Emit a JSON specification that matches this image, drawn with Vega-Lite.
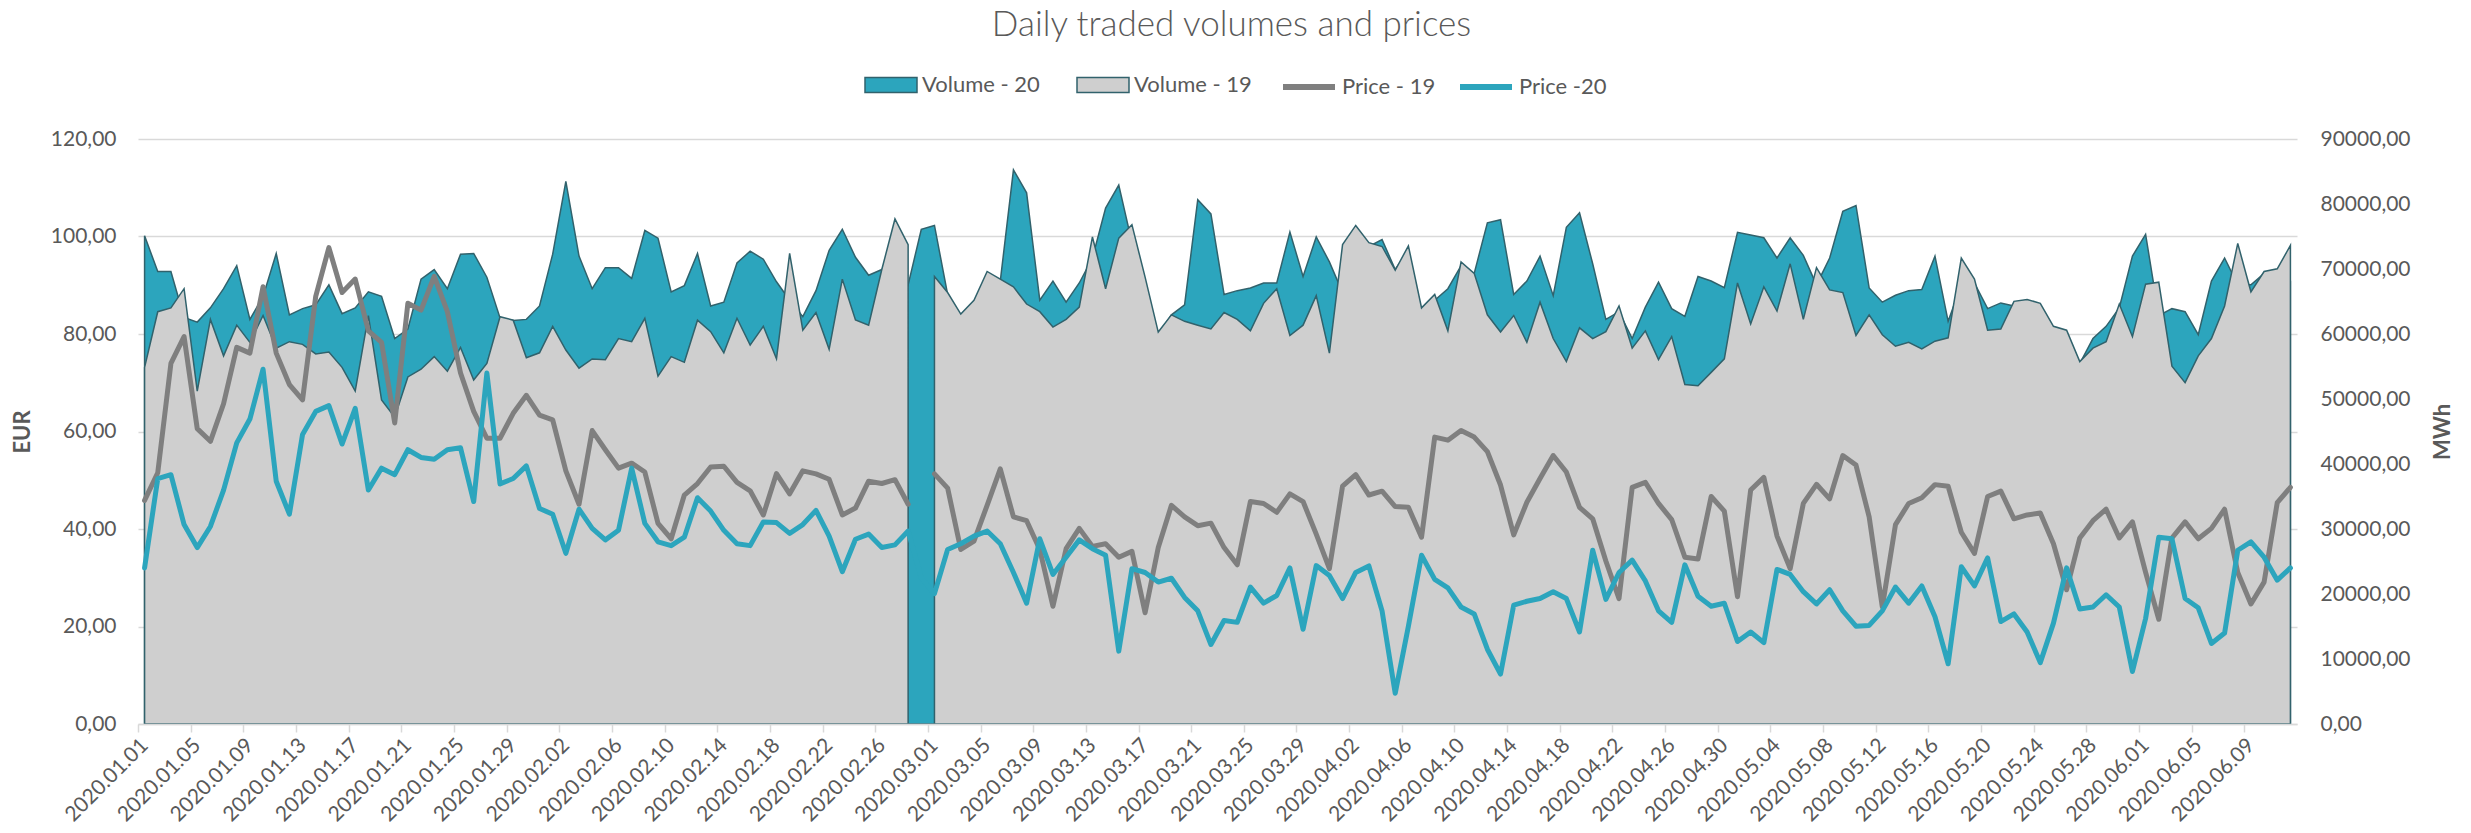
{
  "$schema": "https://vega.github.io/schema/vega-lite/v6.json",
  "width": 2159,
  "height": 585,
  "autosize": {"type": "none"},
  "padding": {"left": 138, "top": 139, "right": 174, "bottom": 109},
  "background": "white",
  "title": {"text": "Daily traded volumes and prices", "anchor": "middle", "frame": "group", "font": "Lato", "fontSize": 35, "fontWeight": 300, "color": "#595959", "offset": 15, "dx": 14},
  "config": {
    "view": {"stroke": null},
    "font": "Lato",
    "axis": {"labelFont": "Lato", "titleFont": "Lato", "labelColor": "#595959", "titleColor": "#595959"},
    "legend": {"labelFont": "Lato", "labelColor": "#595959", "labelFontSize": 22}
  },
  "data": {"values": [
    {"d":"2020.01.01","v20":75100,"v19":54870,"p19":45.87,"p20":32.02},
    {"d":"2020.01.02","v20":69620,"v19":63430,"p19":51.53,"p20":50.35},
    {"d":"2020.01.03","v20":69620,"v19":64020,"p19":73.96,"p20":51.14},
    {"d":"2020.01.04","v20":62540,"v19":66970,"p19":79.47,"p20":40.91},
    {"d":"2020.01.05","v20":61830,"v19":51210,"p19":60.58,"p20":36.19},
    {"d":"2020.01.06","v20":64020,"v19":62250,"p19":57.99,"p20":40.52},
    {"d":"2020.01.07","v20":66970,"v19":56640,"p19":65.70,"p20":47.99},
    {"d":"2020.01.08","v20":70510,"v19":61360,"p19":77.26,"p20":57.67},
    {"d":"2020.01.09","v20":62250,"v19":58710,"p19":76.08,"p20":62.55},
    {"d":"2020.01.10","v20":65790,"v19":62840,"p19":89.69,"p20":72.78},
    {"d":"2020.01.11","v20":72390,"v19":57820,"p19":76.08,"p20":49.80},
    {"d":"2020.01.12","v20":62950,"v19":58820,"p19":69.63,"p20":43.04},
    {"d":"2020.01.13","v20":63900,"v19":58410,"p19":66.48,"p20":59.40},
    {"d":"2020.01.14","v20":64490,"v19":56940,"p19":87.73,"p20":64.12},
    {"d":"2020.01.15","v20":67560,"v19":57230,"p19":97.72,"p20":65.30},
    {"d":"2020.01.16","v20":63130,"v19":54870,"p19":88.51,"p20":57.43},
    {"d":"2020.01.17","v20":64020,"v19":51210,"p19":91.27,"p20":64.75},
    {"d":"2020.01.18","v20":66490,"v19":62840,"p19":80.65,"p20":47.99},
    {"d":"2020.01.19","v20":65790,"v19":49860,"p19":78.28,"p20":52.48},
    {"d":"2020.01.20","v20":59300,"v19":47200,"p19":61.76,"p20":51.14},
    {"d":"2020.01.21","v20":60770,"v19":53400,"p19":86.31,"p20":56.26},
    {"d":"2020.01.22","v20":68440,"v19":54580,"p19":84.89,"p20":54.68},
    {"d":"2020.01.23","v20":69920,"v19":56520,"p19":91.82,"p20":54.29},
    {"d":"2020.01.24","v20":66970,"v19":54280,"p19":84.58,"p20":56.26},
    {"d":"2020.01.25","v20":72280,"v19":57940,"p19":71.99,"p20":56.65},
    {"d":"2020.01.26","v20":72390,"v19":52920,"p19":64.12,"p20":45.63},
    {"d":"2020.01.27","v20":68740,"v19":55460,"p19":58.62,"p20":71.99},
    {"d":"2020.01.28","v20":62480,"v19":62660,"p19":58.62,"p20":49.25},
    {"d":"2020.01.29","v20":62070,"v19":62130,"p19":63.73,"p20":50.35},
    {"d":"2020.01.30","v20":62250,"v19":56350,"p19":67.43,"p20":52.95},
    {"d":"2020.01.31","v20":64310,"v19":57110,"p19":63.34,"p20":44.22},
    {"d":"2020.02.01","v20":72280,"v19":61180,"p19":62.39,"p20":43.04},
    {"d":"2020.02.02","v20":83490,"v19":57530,"p19":51.93,"p20":35.01},
    {"d":"2020.02.03","v20":71980,"v19":54750,"p19":45.08,"p20":44.06},
    {"d":"2020.02.04","v20":66970,"v19":56170,"p19":60.19,"p20":40.13},
    {"d":"2020.02.05","v20":70210,"v19":56050,"p19":56.26,"p20":37.77},
    {"d":"2020.02.06","v20":70210,"v19":59300,"p19":52.48,"p20":39.73},
    {"d":"2020.02.07","v20":68560,"v19":58820,"p19":53.50,"p20":52.48},
    {"d":"2020.02.08","v20":75930,"v19":62420,"p19":51.69,"p20":41.15},
    {"d":"2020.02.09","v20":74750,"v19":53510,"p19":41.15,"p20":37.37},
    {"d":"2020.02.10","v20":66490,"v19":56520,"p19":38.00,"p20":36.59},
    {"d":"2020.02.11","v20":67440,"v19":55640,"p19":46.97,"p20":38.32},
    {"d":"2020.02.12","v20":72390,"v19":62130,"p19":49.33,"p20":46.42},
    {"d":"2020.02.13","v20":64310,"v19":60360,"p19":52.71,"p20":43.67},
    {"d":"2020.02.14","v20":64900,"v19":57110,"p19":52.87,"p20":39.73},
    {"d":"2020.02.15","v20":70920,"v19":62420,"p19":49.57,"p20":36.98},
    {"d":"2020.02.16","v20":72750,"v19":58290,"p19":47.84,"p20":36.59},
    {"d":"2020.02.17","v20":71510,"v19":61180,"p19":42.88,"p20":41.46},
    {"d":"2020.02.18","v20":68030,"v19":56170,"p19":51.38,"p20":41.31},
    {"d":"2020.02.19","v20":65200,"v19":72390,"p19":47.21,"p20":39.10},
    {"d":"2020.02.20","v20":62660,"v19":60590,"p19":51.93,"p20":40.91},
    {"d":"2020.02.21","v20":66670,"v19":63310,"p19":51.30,"p20":43.82},
    {"d":"2020.02.22","v20":72870,"v19":57640,"p19":50.20,"p20":38.55},
    {"d":"2020.02.23","v20":76110,"v19":68440,"p19":42.88,"p20":31.24},
    {"d":"2020.02.24","v20":71800,"v19":62150,"p19":44.30,"p20":37.90},
    {"d":"2020.02.25","v20":69030,"v19":61360,"p19":49.80,"p20":38.95},
    {"d":"2020.02.26","v20":69920,"v19":69920,"p19":49.33,"p20":36.19},
    {"d":"2020.02.27","v20":71690,"v19":77700,"p19":50.12,"p20":36.74},
    {"d":"2020.02.28","v20":67560,"v19":73750,"p19":45.08,"p20":39.58},
    {"d":"2020.02.29","v20":76110,"v19":null,"p19":null,"p20":30.00},
    {"d":"2020.03.01","v20":76700,"v19":68850,"p19":51.30,"p20":26.75},
    {"d":"2020.03.02","v20":66080,"v19":66380,"p19":48.39,"p20":35.80},
    {"d":"2020.03.03","v20":62250,"v19":63070,"p19":35.80,"p20":36.98},
    {"d":"2020.03.04","v20":64610,"v19":65200,"p19":37.53,"p20":38.55},
    {"d":"2020.03.05","v20":68740,"v19":69620,"p19":44.85,"p20":39.58},
    {"d":"2020.03.06","v20":68150,"v19":68440,"p19":52.32,"p20":36.98},
    {"d":"2020.03.07","v20":85260,"v19":67260,"p19":42.49,"p20":31.08},
    {"d":"2020.03.08","v20":81720,"v19":64610,"p19":41.70,"p20":24.78},
    {"d":"2020.03.09","v20":65200,"v19":63430,"p19":35.80,"p20":38.00},
    {"d":"2020.03.10","v20":68150,"v19":61070,"p19":24.15,"p20":30.68},
    {"d":"2020.03.11","v20":64900,"v19":62250,"p19":35.96,"p20":34.22},
    {"d":"2020.03.12","v20":67850,"v19":64130,"p19":40.13,"p20":37.77},
    {"d":"2020.03.13","v20":71690,"v19":74930,"p19":36.43,"p20":35.96},
    {"d":"2020.03.14","v20":79360,"v19":66970,"p19":36.98,"p20":34.62},
    {"d":"2020.03.15","v20":82900,"v19":74750,"p19":34.22,"p20":14.95},
    {"d":"2020.03.16","v20":74050,"v19":76820,"p19":35.41,"p20":31.86},
    {"d":"2020.03.17","v20":66380,"v19":68740,"p19":22.82,"p20":31.08},
    {"d":"2020.03.18","v20":59890,"v19":60300,"p19":36.19,"p20":29.11},
    {"d":"2020.03.19","v20":62950,"v19":62950,"p19":44.85,"p20":29.90},
    {"d":"2020.03.20","v20":64490,"v19":61950,"p19":42.49,"p20":25.96},
    {"d":"2020.03.21","v20":80650,"v19":61360,"p19":40.68,"p20":23.21},
    {"d":"2020.03.22","v20":78470,"v19":60770,"p19":41.20,"p20":16.30},
    {"d":"2020.03.23","v20":66080,"v19":63310,"p19":36.19,"p20":21.24},
    {"d":"2020.03.24","v20":66670,"v19":62250,"p19":32.65,"p20":20.85},
    {"d":"2020.03.25","v20":67080,"v19":60480,"p19":45.63,"p20":28.09},
    {"d":"2020.03.26","v20":67850,"v19":64720,"p19":45.24,"p20":24.78},
    {"d":"2020.03.27","v20":67850,"v19":66970,"p19":43.43,"p20":26.36},
    {"d":"2020.03.28","v20":75700,"v19":59770,"p19":47.21,"p20":32.02},
    {"d":"2020.03.29","v20":68850,"v19":61360,"p19":45.63,"p20":19.43},
    {"d":"2020.03.30","v20":74930,"v19":65900,"p19":38.95,"p20":32.49},
    {"d":"2020.03.31","v20":71100,"v19":57050,"p19":31.86,"p20":30.45},
    {"d":"2020.04.01","v20":66380,"v19":73750,"p19":48.78,"p20":25.73},
    {"d":"2020.04.02","v20":73460,"v19":76700,"p19":51.14,"p20":31.08},
    {"d":"2020.04.03","v20":73460,"v19":74050,"p19":46.97,"p20":32.42},
    {"d":"2020.04.04","v20":74520,"v19":73460,"p19":47.76,"p20":23.21},
    {"d":"2020.04.05","v20":69920,"v19":69800,"p19":44.61,"p20":6.29},
    {"d":"2020.04.06","v20":72870,"v19":73570,"p19":44.45,"p20":20.06},
    {"d":"2020.04.07","v20":63430,"v19":64020,"p19":38.32,"p20":34.62},
    {"d":"2020.04.08","v20":65200,"v19":66080,"p19":58.85,"p20":29.66},
    {"d":"2020.04.09","v20":66970,"v19":60480,"p19":58.22,"p20":27.93},
    {"d":"2020.04.10","v20":70510,"v19":71100,"p19":60.19,"p20":24.00},
    {"d":"2020.04.11","v20":69330,"v19":69330,"p19":58.85,"p20":22.58},
    {"d":"2020.04.12","v20":77110,"v19":62950,"p19":55.86,"p20":15.34},
    {"d":"2020.04.13","v20":77590,"v19":60300,"p19":49.02,"p20":10.23},
    {"d":"2020.04.14","v20":66080,"v19":62840,"p19":38.79,"p20":24.39},
    {"d":"2020.04.15","v20":68150,"v19":58710,"p19":45.48,"p20":25.18},
    {"d":"2020.04.16","v20":71980,"v19":64900,"p19":50.35,"p20":25.73},
    {"d":"2020.04.17","v20":65900,"v19":59300,"p19":55.07,"p20":27.14},
    {"d":"2020.04.18","v20":76410,"v19":55760,"p19":51.69,"p20":25.73},
    {"d":"2020.04.19","v20":78650,"v19":60950,"p19":44.45,"p20":18.88},
    {"d":"2020.04.20","v20":70800,"v19":59300,"p19":42.09,"p20":35.64},
    {"d":"2020.04.21","v20":62250,"v19":60360,"p19":33.44,"p20":25.57},
    {"d":"2020.04.22","v20":63430,"v19":64310,"p19":25.73,"p20":31.08},
    {"d":"2020.04.23","v20":59300,"v19":57820,"p19":48.54,"p20":33.60},
    {"d":"2020.04.24","v20":64130,"v19":60480,"p19":49.57,"p20":29.35},
    {"d":"2020.04.25","v20":67970,"v19":56050,"p19":45.24,"p20":23.21},
    {"d":"2020.04.26","v20":63900,"v19":59590,"p19":41.94,"p20":20.85},
    {"d":"2020.04.27","v20":62720,"v19":52220,"p19":34.22,"p20":32.65},
    {"d":"2020.04.28","v20":68850,"v19":52040,"p19":33.83,"p20":26.20},
    {"d":"2020.04.29","v20":68150,"v19":54100,"p19":46.66,"p20":24.15},
    {"d":"2020.04.30","v20":67140,"v19":56170,"p19":43.67,"p20":24.78},
    {"d":"2020.05.01","v20":75640,"v19":67850,"p19":26.12,"p20":16.92},
    {"d":"2020.05.02","v20":75230,"v19":61540,"p19":47.99,"p20":18.88},
    {"d":"2020.05.03","v20":74810,"v19":67260,"p19":50.59,"p20":16.68},
    {"d":"2020.05.04","v20":71690,"v19":63540,"p19":38.55,"p20":31.71},
    {"d":"2020.05.05","v20":74810,"v19":70800,"p19":31.86,"p20":30.68},
    {"d":"2020.05.06","v20":72100,"v19":62250,"p19":45.24,"p20":27.14},
    {"d":"2020.05.07","v20":67560,"v19":70210,"p19":49.17,"p20":24.63},
    {"d":"2020.05.08","v20":71690,"v19":66790,"p19":46.18,"p20":27.54},
    {"d":"2020.05.09","v20":78880,"v19":66380,"p19":55.07,"p20":23.21},
    {"d":"2020.05.10","v20":79770,"v19":59770,"p19":53.11,"p20":20.06},
    {"d":"2020.05.11","v20":67080,"v19":62950,"p19":42.49,"p20":20.22},
    {"d":"2020.05.12","v20":64900,"v19":59890,"p19":24.00,"p20":23.21},
    {"d":"2020.05.13","v20":65960,"v19":58120,"p19":40.91,"p20":28.09},
    {"d":"2020.05.14","v20":66670,"v19":58710,"p19":45.24,"p20":24.78},
    {"d":"2020.05.15","v20":66850,"v19":57700,"p19":46.42,"p20":28.32},
    {"d":"2020.05.16","v20":71980,"v19":58900,"p19":49.10,"p20":22.00},
    {"d":"2020.05.17","v20":61950,"v19":59410,"p19":48.78,"p20":12.35},
    {"d":"2020.05.18","v20":67560,"v19":71690,"p19":39.34,"p20":32.26},
    {"d":"2020.05.19","v20":67850,"v19":68440,"p19":35.01,"p20":28.32},
    {"d":"2020.05.20","v20":63900,"v19":60590,"p19":46.66,"p20":34.07},
    {"d":"2020.05.21","v20":64780,"v19":60770,"p19":47.76,"p20":21.01},
    {"d":"2020.05.22","v20":64310,"v19":65020,"p19":42.09,"p20":22.58},
    {"d":"2020.05.23","v20":64610,"v19":65310,"p19":42.88,"p20":18.88},
    {"d":"2020.05.24","v20":64020,"v19":64720,"p19":43.27,"p20":12.59},
    {"d":"2020.05.25","v20":60480,"v19":61180,"p19":36.98,"p20":20.69},
    {"d":"2020.05.26","v20":59300,"v19":60590,"p19":27.54,"p20":32.02},
    {"d":"2020.05.27","v20":55460,"v19":55760,"p19":38.16,"p20":23.60},
    {"d":"2020.05.28","v20":59300,"v19":57820,"p19":41.70,"p20":24.00},
    {"d":"2020.05.29","v20":61180,"v19":58820,"p19":44.06,"p20":26.51},
    {"d":"2020.05.30","v20":64020,"v19":64610,"p19":38.16,"p20":24.00},
    {"d":"2020.05.31","v20":71980,"v19":59590,"p19":41.46,"p20":10.78},
    {"d":"2020.06.01","v20":75340,"v19":67670,"p19":31.08,"p20":21.64},
    {"d":"2020.06.02","v20":62840,"v19":67970,"p19":21.48,"p20":38.32},
    {"d":"2020.06.03","v20":63900,"v19":55050,"p19":38.16,"p20":38.00},
    {"d":"2020.06.04","v20":63430,"v19":52510,"p19":41.46,"p20":25.73},
    {"d":"2020.06.05","v20":59890,"v19":56640,"p19":38.00,"p20":23.84},
    {"d":"2020.06.06","v20":68150,"v19":59300,"p19":40.13,"p20":16.52},
    {"d":"2020.06.07","v20":71690,"v19":64310,"p19":44.06,"p20":18.65},
    {"d":"2020.06.08","v20":67560,"v19":73930,"p19":31.08,"p20":35.64},
    {"d":"2020.06.09","v20":67560,"v19":66490,"p19":24.63,"p20":37.37},
    {"d":"2020.06.10","v20":69330,"v19":69620,"p19":29.11,"p20":34.22},
    {"d":"2020.06.11","v20":69620,"v19":70030,"p19":45.40,"p20":29.50},
    {"d":"2020.06.12","v20":68150,"v19":73630,"p19":48.54,"p20":32.02}
  ]},
  "layer": [
    {
      "layer": [
        {
          "mark": {"type": "area", "stroke": "#31626C", "strokeWidth": 1.5, "opacity": 1, "invalid": "break-paths-filter-domains"},
          "encoding": {
            "x": {"field": "d", "type": "ordinal", "scale": {"type": "point", "padding": 0.5},
              "axis": {"title": null, "values": ["2020.01.01","2020.01.05","2020.01.09","2020.01.13","2020.01.17","2020.01.21","2020.01.25","2020.01.29","2020.02.02","2020.02.06","2020.02.10","2020.02.14","2020.02.18","2020.02.22","2020.02.26","2020.03.01","2020.03.05","2020.03.09","2020.03.13","2020.03.17","2020.03.21","2020.03.25","2020.03.29","2020.04.02","2020.04.06","2020.04.10","2020.04.14","2020.04.18","2020.04.22","2020.04.26","2020.04.30","2020.05.04","2020.05.08","2020.05.12","2020.05.16","2020.05.20","2020.05.24","2020.05.28","2020.06.01","2020.06.05","2020.06.09"],
                "labelAngle": -45, "labelAlign": "right", "labelBaseline": "middle", "labelFontSize": 21, "labelPadding": 10, "labelOverlap": false, "labelBound": false,
                "domainColor": "#D9D9D9", "domainWidth": 1.5, "tickColor": "#D9D9D9", "tickWidth": 1.5, "tickSize": 8, "tickOffset": -6.58, "labelOffset": 6.58, "grid": false, "zindex": 1}},
            "y": {"field": "v20", "type": "quantitative", "stack": null, "title": "MWh", "scale": {"domain": [0, 90000], "nice": false},
              "axis": {"orient": "right", "values": [0,10000,20000,30000,40000,50000,60000,70000,80000,90000], "labelExpr": "replace(format(datum.value, '.2f'), '.', ',')", "grid": false, "domain": false, "ticks": false, "labelPadding": 23, "labelFontSize": 21, "titleFontSize": 22, "titleFontWeight": "bold", "titleAngle": -90, "titleBaseline": "top", "titlePadding": 22}},
            "fill": {"datum": "Volume - 20", "type": "nominal", "scale": {"domain": ["Volume - 20", "Volume - 19"], "range": ["#2CA5BD", "#CFCFCF"]},
              "legend": {"orient": "none", "legendX": 726, "legendY": -81, "direction": "horizontal", "title": null, "symbolType": "M-1,-0.29H1V0.29H-1Z", "symbolSize": 2704, "symbolStrokeColor": "#31626C", "symbolStrokeWidth": 1.5, "symbolOpacity": 1, "labelFontSize": 22, "labelOffset": 4, "columnPadding": 34}}
          }
        },
        {
          "mark": {"type": "area", "stroke": "#31626C", "strokeWidth": 1.5, "opacity": 1, "invalid": "break-paths-filter-domains"},
          "encoding": {
            "x": {"field": "d", "type": "ordinal", "scale": {"type": "point", "padding": 0.5}},
            "y": {"field": "v19", "type": "quantitative", "stack": null, "title": "MWh"},
            "fill": {"datum": "Volume - 19", "type": "nominal"}
          }
        }
      ]
    },
    {
      "layer": [
        {
          "mark": {"type": "line", "strokeWidth": 5, "strokeCap": "round", "strokeJoin": "round", "invalid": "break-paths-filter-domains"},
          "encoding": {
            "x": {"field": "d", "type": "ordinal", "scale": {"type": "point", "padding": 0.5}},
            "y": {"field": "p19", "type": "quantitative", "title": "EUR", "scale": {"domain": [0, 120], "nice": false},
              "axis": {"orient": "left", "values": [0,20,40,60,80,100,120], "labelExpr": "replace(format(datum.value, '.2f'), '.', ',')", "grid": true, "gridColor": "#D9D9D9", "gridWidth": 1.5, "domain": false, "ticks": false, "labelPadding": 22, "labelFontSize": 21, "titleFontSize": 22, "titleFontWeight": "bold", "titlePadding": 16}},
            "stroke": {"datum": "Price - 19", "type": "nominal", "scale": {"domain": ["Price - 19", "Price -20"], "range": ["#7F7F7F", "#2CA5BD"]},
              "legend": {"orient": "none", "legendX": 1142, "legendY": -81, "direction": "horizontal", "title": null, "symbolType": "stroke", "symbolSize": 2704, "symbolStrokeWidth": 6, "labelFontSize": 22, "labelOffset": 4, "columnPadding": 12}}
          }
        },
        {
          "mark": {"type": "line", "strokeWidth": 5, "strokeCap": "round", "strokeJoin": "round"},
          "encoding": {
            "x": {"field": "d", "type": "ordinal", "scale": {"type": "point", "padding": 0.5}},
            "y": {"field": "p20", "type": "quantitative", "title": "EUR"},
            "stroke": {"datum": "Price -20", "type": "nominal"}
          }
        }
      ]
    }
  ],
  "resolve": {"scale": {"y": "independent"}}
}
